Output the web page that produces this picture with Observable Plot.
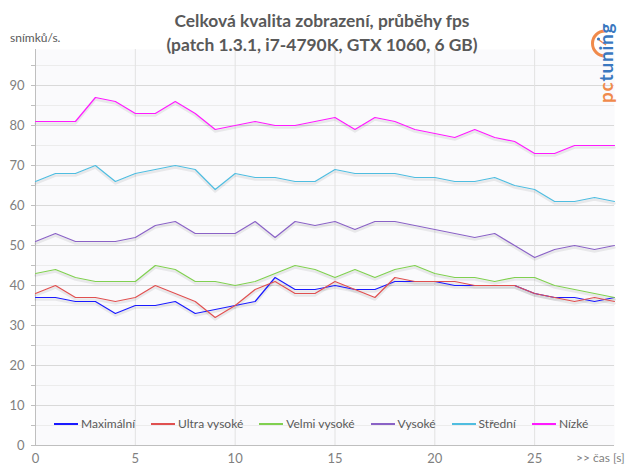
<!DOCTYPE html>
<html><head><meta charset="utf-8">
<script src="https://cdn.jsdelivr.net/npm/d3@7"></script>
<script src="https://cdn.jsdelivr.net/npm/@observablehq/plot@0.6"></script>
<style>
body{margin:0;background:#fff;font-family:Lato,"Open Sans",sans-serif;}
#wrap{position:relative;width:639px;height:476px;overflow:hidden;}
#wrap svg{position:absolute;left:0;top:0;}
.title{position:absolute;left:0;width:644px;text-align:center;font-weight:bold;font-size:17.4px;color:#595959;line-height:24px;top:9px;}
.ylab{position:absolute;left:10px;top:30px;font-size:12px;color:#595959;}
.xlab{position:absolute;left:576px;top:450px;font-size:12px;color:#7f7f7f;}
.legend{position:absolute;left:54px;top:416px;display:flex;font-size:12px;color:#595959;}
.legend .it{display:flex;align-items:center;margin-right:16px;}
.legend .sw{width:24px;height:0;border-top:2px solid;margin-right:3px;}
.logo{position:absolute;left:586px;top:14px;}
</style></head><body><div id="wrap"></div>
<script>
const seconds = [0,1,2,3,4,5,6,7,8,9,10,11,12,13,14,15,16,17,18,19,20,21,22,23,24,25,26,27,28,29];
const seriesNames = ["Maximální","Ultra vysoké","Velmi vysoké","Vysoké","Střední","Nízké"];
const seriesColors = ["#1a1aff","#e05050","#80d050","#8a62c6","#4fbde0","#ff1aff"];
const maximalni   = [37,37,36,36,33,35,35,36,33,34,35,36,42,39,39,40,39,39,41,41,41,40,40,40,40,38,37,37,36,37];
const ultraVysoke = [38,40,37,37,36,37,40,38,36,32,35,39,41,38,38,41,39,37,42,41,41,41,40,40,40,38,37,36,37,36];
const velmiVysoke = [43,44,42,41,41,41,45,44,41,41,40,41,43,45,44,42,44,42,44,45,43,42,42,41,42,42,40,39,38,37];
const vysoke      = [51,53,51,51,51,52,55,56,53,53,53,56,52,56,55,56,54,56,56,55,54,53,52,53,50,47,49,50,49,50];
const stredni     = [66,68,68,70,66,68,69,70,69,64,68,67,67,66,66,69,68,68,68,67,67,66,66,67,65,64,61,61,62,61];
const nizke       = [81,81,81,87,86,83,83,86,83,79,80,81,80,80,81,82,79,82,81,79,78,77,79,77,76,73,73,75,75,75];
const yLabelTicks = [0,10,20,30,40,50,60,70,80,90];
const yMinorTicks = [0,5,10,15,20,25,30,35,40,45,50,55,60,65,70,75,80,85,90,95];
const yMinorGrid  = [5,15,25,35,45,55,65,75,85,95];
const yMajorGrid  = [10,20,30,40,50,60,70,80,90];
const xTicks      = [0,5,10,15,20,25];
const xGrid       = [5,10,15,20,25];

const allSeries = [maximalni, ultraVysoke, velmiVysoke, vysoke, stredni, nizke];
const data = [];
allSeries.forEach((vals, si) => vals.forEach((v, i) => data.push({t: seconds[i], v, s: seriesNames[si]})));

const chart = Plot.plot({
  width: 639, height: 476,
  marginLeft: 35, marginRight: 25, marginTop: 49, marginBottom: 31,
  style: {fontFamily: "Lato, sans-serif", fontSize: "12px", color: "#7f7f7f", background: "transparent"},
  x: {domain: [0, 29], label: null},
  y: {domain: [0, 99], label: null},
  color: {domain: seriesNames, range: seriesColors},
  marks: [
    Plot.frame({fill: "#fafafc", stroke: null}),
    Plot.ruleY(yMinorGrid, {stroke: "#ececec"}),
    Plot.ruleY(yMajorGrid, {stroke: "#d9d9d9"}),
    Plot.ruleX(xGrid, {stroke: "#e2e2e2"}),
    Plot.axisY(yMinorTicks, {tickSize: 4, text: null, stroke: "#bfbfbf", label: null}),
    Plot.axisY(yLabelTicks, {tickSize: 0, tickPadding: 11, fill: "#7f7f7f", fontSize: 13, label: null}),
    Plot.axisX(xTicks, {tickSize: 0, tickPadding: 8, fill: "#7f7f7f", fontSize: 13, label: null}),
    Plot.ruleX([0], {stroke: "#bfbfbf"}),
    Plot.ruleY([0], {stroke: "#bfbfbf"}),
    Plot.line(data, {x: "t", y: "v", z: "s", stroke: "#000", strokeOpacity: 0.07, strokeWidth: 2.5, dy: 2}),
    Plot.line(data, {x: "t", y: "v", z: "s", stroke: "s", strokeWidth: 1.2})
  ]
});

const wrap = document.getElementById("wrap");
wrap.appendChild(chart);

const title = document.createElement("div");
title.className = "title";
title.innerHTML = "Celková kvalita zobrazení, průběhy fps<br>(patch 1.3.1, i7-4790K, GTX 1060, 6 GB)";
wrap.appendChild(title);

const ylab = document.createElement("div");
ylab.className = "ylab"; ylab.textContent = "snímků/s.";
wrap.appendChild(ylab);

const xlab = document.createElement("div");
xlab.className = "xlab"; xlab.textContent = ">> čas [s]";
wrap.appendChild(xlab);

const legend = document.createElement("div");
legend.className = "legend";
seriesNames.forEach((n, i) => {
  const it = document.createElement("div"); it.className = "it";
  const sw = document.createElement("div"); sw.className = "sw"; sw.style.borderColor = seriesColors[i];
  const tx = document.createElement("span"); tx.textContent = n;
  it.appendChild(sw); it.appendChild(tx); legend.appendChild(it);
});
wrap.appendChild(legend);

const logo = document.createElement("div");
logo.className = "logo";
logo.innerHTML = `<svg width="45" height="95" xmlns="http://www.w3.org/2000/svg">
<path d="M 19 17 A 12.5 12.5 0 0 0 19 42" fill="none" stroke="#f08a4b" stroke-width="3"/>
<line x1="13" y1="26" x2="20" y2="31" stroke="#f08a4b" stroke-width="1.5"/>
<circle cx="12.5" cy="25" r="1.6" fill="#3a78c0"/>
<text transform="translate(27,89) rotate(-90)" font-family="Lato, sans-serif" font-weight="bold" font-size="19" letter-spacing="0.8"><tspan fill="#f08a4b">pc</tspan><tspan fill="#3a78c0">tuning</tspan></text>
</svg>`;
wrap.appendChild(logo);
</script>
</body></html>
